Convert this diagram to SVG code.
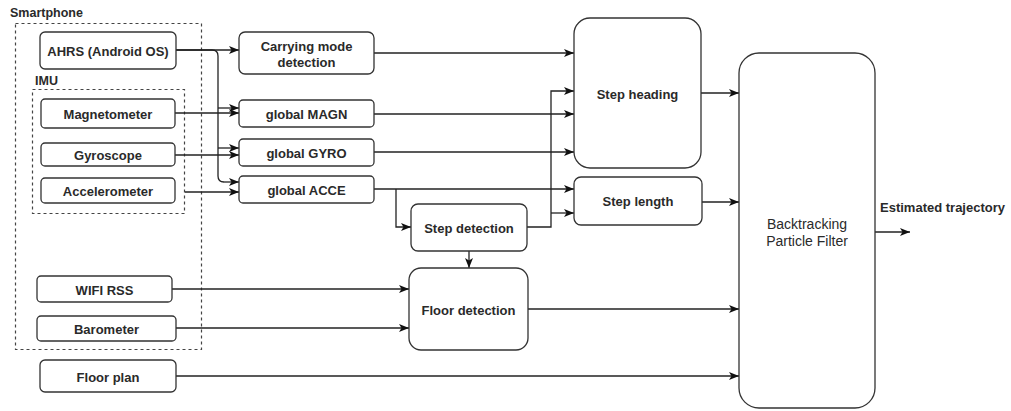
<svg xmlns="http://www.w3.org/2000/svg" width="1011" height="411" viewBox="0 0 1011 411">
<defs>
<marker id="arr" markerUnits="userSpaceOnUse" markerWidth="10" markerHeight="10" viewBox="0 0 10 10" refX="10" refY="5" orient="auto">
<path d="M0,1 L10,5 L0,9 L2.5,5 z" fill="#111"/>
</marker>
<style>
.box{fill:#fff;stroke:#333;stroke-width:1.3}
.dash{fill:none;stroke:#444;stroke-width:1.2;stroke-dasharray:3 3}
.t{font-family:"Liberation Sans",Arial,sans-serif;font-size:13px;font-weight:bold;fill:#2a2a2a;text-anchor:middle;dominant-baseline:central}
.tl{font-family:"Liberation Sans",Arial,sans-serif;font-size:12.5px;font-weight:bold;fill:#2a2a2a}
.tr{font-family:"Liberation Sans",Arial,sans-serif;font-size:14px;fill:#2a2a2a;text-anchor:middle;dominant-baseline:central}
.c{fill:none;stroke:#222;stroke-width:1.3;marker-end:url(#arr)}
.n{fill:none;stroke:#222;stroke-width:1.3}
</style>
</defs>
<rect width="1011" height="411" fill="#fff"/>
<g id="smartphone">
<rect class="dash" x="15.5" y="23.5" width="186" height="326"/>
<text class="tl" x="10" y="17">Smartphone</text>
</g>
<g id="imu">
<rect class="dash" x="32.5" y="89.5" width="152" height="124"/>
<text class="tl" x="35" y="85">IMU</text>
</g>
<g id="connectors">
<path class="c" d="M176,50 H239"/>
<path class="n" d="M176,50 H212 Q218,50 218,56 V176 Q218,182 224,182"/>
<path class="c" d="M224,182 H239"/>
<path class="c" d="M218,108 H239"/>
<path class="c" d="M218,148 H239"/>
<path class="c" d="M175,113 H239"/>
<path class="c" d="M175,155 H239"/>
<path class="c" d="M185,192 H239"/>
<path class="c" d="M374,53 H574"/>
<path class="c" d="M374,114 H574"/>
<path class="c" d="M374,152 H574"/>
<path class="c" d="M374,189 H574"/>
<path class="c" d="M396,189 V227 H411"/>
<path class="c" d="M527,227 H551 V91 H574"/>
<path class="c" d="M551,213 H574"/>
<path class="c" d="M469,251 V268"/>
<path class="c" d="M172,289 H409"/>
<path class="c" d="M176,328 H409"/>
<path class="c" d="M701,93 H739"/>
<path class="c" d="M702,202 H739"/>
<path class="c" d="M528,309 H739"/>
<path class="c" d="M176,376 H739"/>
<path class="c" d="M875,232 H910"/>
</g>
<g id="ahrs"><rect class="box" x="40" y="32" width="136" height="37" rx="5"/><text class="t" x="108" y="51">AHRS (Android OS)</text></g>
<g id="magnetometer"><rect class="box" x="41" y="99" width="134" height="29" rx="4"/><text class="t" x="108" y="114">Magnetometer</text></g>
<g id="gyroscope"><rect class="box" x="41" y="143" width="134" height="23" rx="4"/><text class="t" x="108" y="155">Gyroscope</text></g>
<g id="accelerometer"><rect class="box" x="41" y="178" width="134" height="25" rx="4"/><text class="t" x="108" y="191">Accelerometer</text></g>
<g id="carrying"><rect class="box" x="239" y="32" width="135" height="42" rx="6"/><text class="t" x="306.5" y="46">Carrying mode</text><text class="t" x="306.5" y="62">detection</text></g>
<g id="gmagn"><rect class="box" x="239" y="100" width="135" height="27" rx="4"/><text class="t" x="306.5" y="114">global MAGN</text></g>
<g id="ggyro"><rect class="box" x="239" y="139" width="135" height="27" rx="4"/><text class="t" x="306.5" y="153">global GYRO</text></g>
<g id="gacce"><rect class="box" x="239" y="176" width="135" height="27" rx="4"/><text class="t" x="306.5" y="190">global ACCE</text></g>
<g id="stepheading"><rect class="box" x="574" y="18" width="127" height="150" rx="16"/><text class="t" x="637.5" y="94">Step heading</text></g>
<g id="steplength"><rect class="box" x="574" y="177" width="128" height="48" rx="7"/><text class="t" x="638" y="201">Step length</text></g>
<g id="stepdetection"><rect class="box" x="411" y="204" width="116" height="47" rx="7"/><text class="t" x="469" y="228">Step detection</text></g>
<g id="floordetection"><rect class="box" x="409" y="268" width="119" height="82" rx="12"/><text class="t" x="468.5" y="310">Floor detection</text></g>
<g id="wifi"><rect class="box" x="37" y="276" width="135" height="26" rx="4"/><text class="t" x="104.5" y="290">WIFI RSS</text></g>
<g id="barometer"><rect class="box" x="37" y="316" width="139" height="25" rx="4"/><text class="t" x="106.5" y="329">Barometer</text></g>
<g id="floorplan"><rect class="box" x="40" y="360" width="136" height="32" rx="5"/><text class="t" x="108" y="377">Floor plan</text></g>
<g id="pf"><rect class="box" x="739" y="53" width="136" height="355" rx="20"/><text class="tr" x="807" y="224">Backtracking</text><text class="tr" x="807" y="241">Particle Filter</text></g>
<g id="output"><text class="tl" x="880" y="212" style="font-size:13px">Estimated trajectory</text></g>
</svg>
